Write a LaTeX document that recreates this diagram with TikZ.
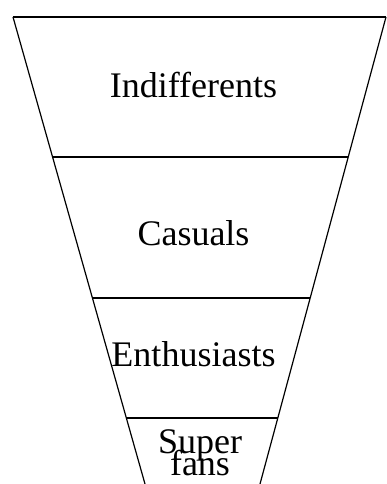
\documentclass[tikz,border=0pt]{standalone}
\usepackage{fontspec}
\setmainfont{Liberation Serif}
\usetikzlibrary{calc}

\begin{document}
\begin{tikzpicture}[x=1pt,y=1pt,
      every node/.style={font=\fontsize{36}{19.5}\selectfont,inner sep=0pt},
      band/.style={line width=1.2pt}]
    \useasboundingbox (0,0) rectangle (386,484);
    % funnel sides
    \coordinate (tl) at (13,467);
    \coordinate (tr) at (386,467);
    \coordinate (bl) at (145,0);
    \coordinate (br) at (260,0);
    \draw[band] (tl) -- (bl);
    \draw[band] (tr) -- (br);

    % dividers
    \foreach \t in {0,.2998,.6017,.8587}
      \draw[band] ($(tl)!\t!(bl)$) -- ($(tr)!\t!(br)$);

    % labels
    \node[anchor=base] (indiff) at (193.5,386) {Indifferents};
    \node[anchor=base] (casuals) at (193.5,238) {Casuals};
    \node[anchor=base] (enthus) at (193.5,117) {Enthusiasts};
    \node[anchor=base,align=center] (superfans) at (200,9) {Super\\[-13pt]fans};
  \end{tikzpicture}
\end{document}
